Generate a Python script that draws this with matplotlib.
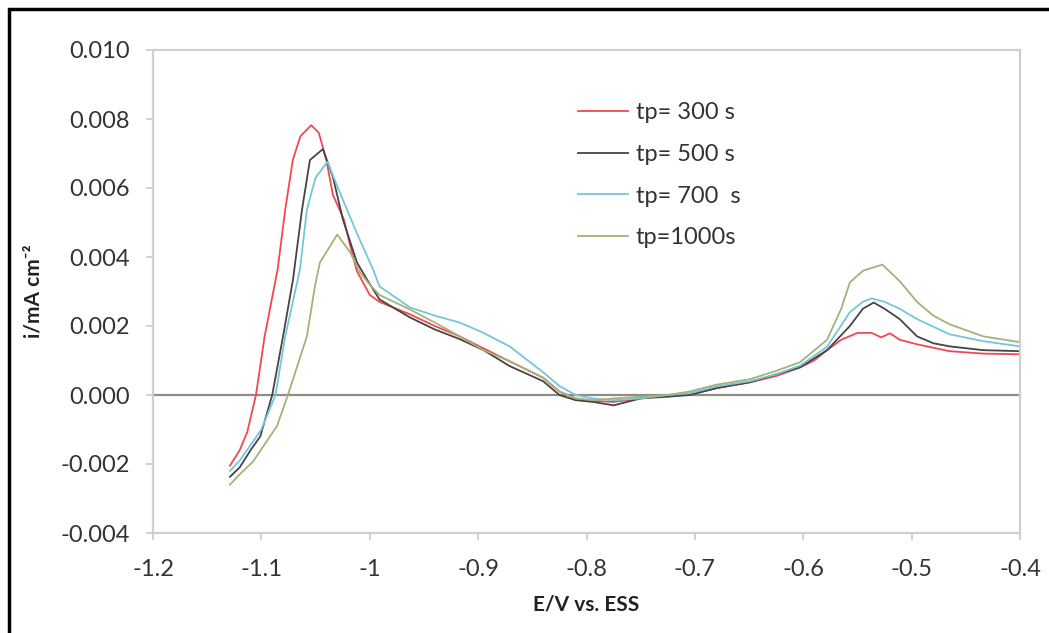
import matplotlib.pyplot as plt
from matplotlib.patches import Rectangle

plt.rcParams['font.family'] = ['Lato', 'DejaVu Sans']

# data (E in V vs. ESS, i in mA cm-2)
e_300 = [-1.129, -1.12, -1.113, -1.105, -1.097, -1.085, -1.078, -1.071, -1.064, -1.054,
         -1.047, -1.040, -1.034, -1.024, -1.017, -1.012, -1.000, -0.991, -0.963, -0.940,
         -0.917, -0.895, -0.871, -0.840, -0.825, -0.810, -0.794, -0.775, -0.750, -0.725,
         -0.705, -0.680, -0.649, -0.625, -0.603, -0.590, -0.578, -0.565, -0.550, -0.537,
         -0.528, -0.520, -0.511, -0.495, -0.465, -0.434, -0.400]
i_300 = [-0.00205, -0.0016, -0.00107, 0.0, 0.0017, 0.00364, 0.00537, 0.00681, 0.0075, 0.00782,
         0.0076, 0.0068, 0.0058, 0.0051, 0.0042, 0.0036, 0.0029, 0.0027, 0.00234, 0.0020,
         0.0017, 0.00135, 0.00098, 0.0005, 0.0001, -0.0001, -0.00017, -0.0002, -0.0001, 0.0,
         0.0, 0.0002, 0.00037, 0.00055, 0.0008, 0.001, 0.0013, 0.0016, 0.0018, 0.0018,
         0.00167, 0.00179, 0.0016, 0.00147, 0.00127, 0.0012, 0.00118]

e_500 = [-1.129, -1.12, -1.11, -1.101, -1.090, -1.080, -1.0708, -1.0625, -1.0552, -1.0432,
         -1.034, -1.0247, -1.0118, -1.0026, -0.991, -0.963, -0.940, -0.917, -0.895, -0.871,
         -0.840, -0.825, -0.810, -0.794, -0.775, -0.750, -0.725, -0.705, -0.680, -0.649,
         -0.625, -0.603, -0.578, -0.557, -0.545, -0.535, -0.525, -0.511, -0.495, -0.480,
         -0.465, -0.434, -0.400]
i_500 = [-0.00237, -0.0021, -0.0016, -0.0012, 0.0, 0.0017, 0.00335, 0.00537, 0.00681, 0.00713,
         0.00632, 0.00508, 0.00384, 0.00335, 0.00277, 0.00225, 0.0019, 0.00162, 0.0013, 0.00084,
         0.0004, 0.0, -0.00015, -0.0002, -0.0003, -0.0001, -0.00005, 0.0, 0.0002, 0.00037,
         0.0006, 0.0008, 0.0013, 0.002, 0.0025, 0.00268, 0.0025, 0.0022, 0.0017, 0.0015,
         0.00141, 0.0013, 0.00127]

e_700 = [-1.129, -1.12, -1.10, -1.087, -1.078, -1.0644, -1.058, -1.050, -1.039, -1.0275,
         -1.012, -0.997, -0.991, -0.963, -0.940, -0.917, -0.895, -0.871, -0.840, -0.825,
         -0.810, -0.794, -0.775, -0.750, -0.725, -0.705, -0.680, -0.649, -0.625, -0.603,
         -0.578, -0.557, -0.545, -0.537, -0.525, -0.511, -0.495, -0.465, -0.434, -0.400]
i_700 = [-0.0022, -0.0019, -0.001, 0.0, 0.0017, 0.00364, 0.00537, 0.0063, 0.00676, 0.00586,
         0.0047, 0.00364, 0.00315, 0.00254, 0.0023, 0.0021, 0.0018, 0.00141, 0.00066, 0.00026,
         0.0, -0.0001, -0.00015, -0.0001, 0.0, 0.00005, 0.00025, 0.0004, 0.0006, 0.00085,
         0.0014, 0.0024, 0.0027, 0.0028, 0.0027, 0.0025, 0.0022, 0.00176, 0.00156, 0.00141]

e_1000 = [-1.129, -1.12, -1.1077, -1.0856, -1.0755, -1.058, -1.0506, -1.046, -1.030, -1.018,
          -1.009, -1.000, -0.991, -0.963, -0.940, -0.917, -0.895, -0.871, -0.840, -0.825,
          -0.810, -0.794, -0.775, -0.750, -0.725, -0.705, -0.680, -0.649, -0.625, -0.603,
          -0.578, -0.565, -0.557, -0.545, -0.527, -0.511, -0.495, -0.480, -0.465, -0.434,
          -0.400]
i_1000 = [-0.0026, -0.0023, -0.00193, -0.0009, 0.0, 0.0017, 0.00315, 0.00384, 0.00465, 0.00413,
          0.00355, 0.0032, 0.0029, 0.00248, 0.0021, 0.0017, 0.0013, 0.00098, 0.0005, 0.0001,
          -0.0001, -0.00015, -0.0001, -0.00005, 0.0, 0.0001, 0.0003, 0.00046, 0.0007, 0.00095,
          0.0016, 0.0025, 0.00326, 0.0036, 0.00378, 0.0033, 0.0027, 0.0023, 0.00205, 0.0017,
          0.00153]

labels = ['tp= 300 s', 'tp= 500 s', 'tp= 700  s', 'tp=1000s']
colors = ['#f4474f', '#454545', '#72c6de', '#a3b377']

xticks = [-1.2, -1.1, -1.0, -0.9, -0.8, -0.7, -0.6, -0.5, -0.4]
xtick_labels = ['-1.2', '-1.1', '-1', '-0.9', '-0.8', '-0.7', '-0.6', '-0.5', '-0.4']
yticks = [-0.004, -0.002, 0.0, 0.002, 0.004, 0.006, 0.008, 0.010]
ytick_labels = ['-0.004', '-0.002', '0.000', '0.002', '0.004', '0.006', '0.008', '0.010']

fig = plt.figure(figsize=(10.49, 6.33), dpi=100)
ax = fig.add_axes([153 / 1049, 100 / 633, 867 / 1049, 483 / 633])

ax.axhline(0, color='#8c8c8c', lw=1.6, zorder=1)
series = [(e_300, i_300), (e_500, i_500), (e_700, i_700), (e_1000, i_1000)]
for (e, i), lab, c in zip(series, labels, colors):
    ax.plot(e, i, color=c, lw=1.3, label=lab, zorder=2)

ax.set_xlim(-1.2, -0.4)
ax.set_ylim(-0.004, 0.010)
ax.set_xticks(xticks)
ax.set_xticklabels(xtick_labels, fontsize=17, color='#333333')
ax.set_yticks(yticks)
ax.set_yticklabels(ytick_labels, fontsize=17, color='#333333')
ax.tick_params(direction='out', length=5, width=1.2, color='#c8c8c8')
ax.tick_params(axis='x', pad=14)
ax.tick_params(axis='y', pad=12)
for s in ax.spines.values():
    s.set_color('#cfcfcf')
    s.set_linewidth(1.6)

ax.set_xlabel('E/V vs. ESS', fontsize=15, fontweight='bold', color='#222222', labelpad=10)
ax.set_ylabel('i/mA cm⁻²', fontsize=15, fontweight='bold', color='#222222', labelpad=12)

ax.legend(loc='upper left', bbox_to_anchor=(578 / 1049, 1 - 102 / 633), bbox_transform=fig.transFigure,
          frameon=False, fontsize=17, handlelength=2.1, handletextpad=0.35, labelspacing=0.88,
          borderpad=0, borderaxespad=0, labelcolor='#333333')

# black frame around the picture (right and bottom edges fall outside)
fig.patches.append(Rectangle((9 / 1049, -0.05), 1.1, 1 - 9 / 633 + 0.05, transform=fig.transFigure,
                             fill=False, edgecolor='black', lw=2.5))

fig.savefig('out.png', dpi=100)
